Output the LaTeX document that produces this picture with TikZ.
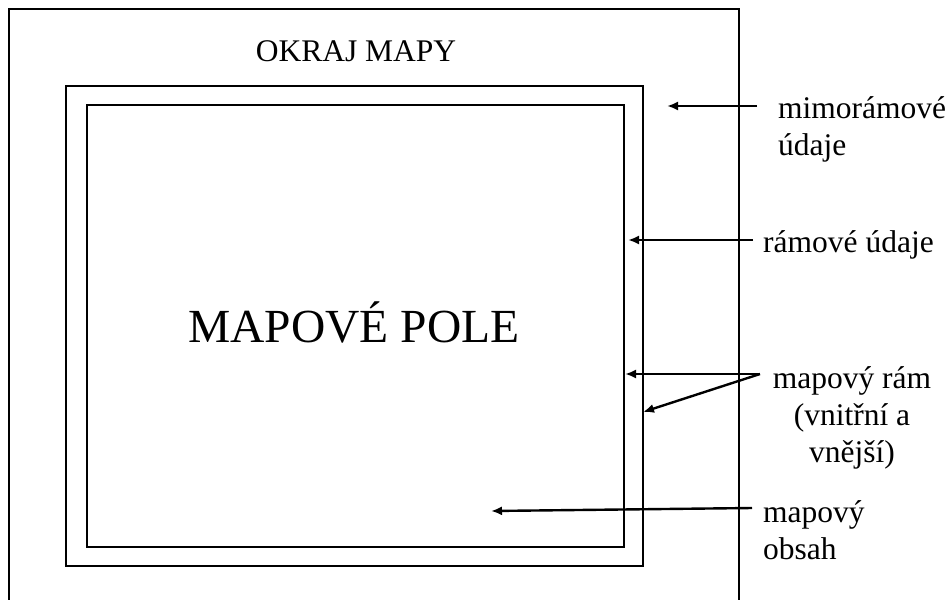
\documentclass[tikz,border=0pt]{standalone}
\usepackage{fontspec}
\setmainfont{Liberation Serif}
\usetikzlibrary{arrows.meta}
\begin{document}
\begin{tikzpicture}[x=1pt,y=-1pt,
  frame/.style={line width=2.4pt},
  innerframe/.style={line width=1.5pt},
  pointer/.style={line width=2.4pt,-{Latex[length=11pt,width=9pt]}},
  label/.style={inner sep=0pt,font=\fontsize{31.5}{37}\selectfont},
  big/.style={inner sep=0pt,font=\fontsize{47.5}{56}\selectfont}]
\useasboundingbox (0,0) rectangle (951,600);
% sheet edge (open towards the bottom)
\draw[frame] (9,602) -- (9,9) -- (739,9) -- (739,602);
% outer and inner map frame
\draw[frame] (66,86) rectangle (643,566);
\draw[innerframe] (87,105) rectangle (624,547);
% texts (multi-line labels are placed by the baseline of their last line)
\node[label,anchor=base] (okraj) at (356,61) {OKRAJ MAPY};
\node[big,anchor=base] (pole) at (354,342) {MAPOVÉ POLE};
\node[label,anchor=base west,align=left] (mimo) at (778,155) {mimorámové\\údaje};
\node[label,anchor=base west] (ramove) at (763,252) {rámové údaje};
\node[label,anchor=base,align=center] (ram) at (852,462) {mapový rám\\(vnitřní a\\vnější)};
\node[label,anchor=base west,align=left] (obsah) at (763,559) {mapový\\obsah};
% pointer ends
\coordinate (s1) at (757,106);  \coordinate (t1) at (667,106);
\coordinate (s2) at (753,240);  \coordinate (t2) at (628,240);
\coordinate (s3) at (760,374);  \coordinate (t3a) at (625,374); \coordinate (t3b) at (643,412);
\coordinate (s4) at (752,508);  \coordinate (t4) at (491,511);
\draw[pointer] (s1) -- (t1);
\draw[pointer] (s2) -- (t2);
\draw[pointer] (s3) -- (t3a);
\draw[pointer] (s3) -- (t3b);
\draw[pointer] (s4) -- (t4);
\end{tikzpicture}
\end{document}
